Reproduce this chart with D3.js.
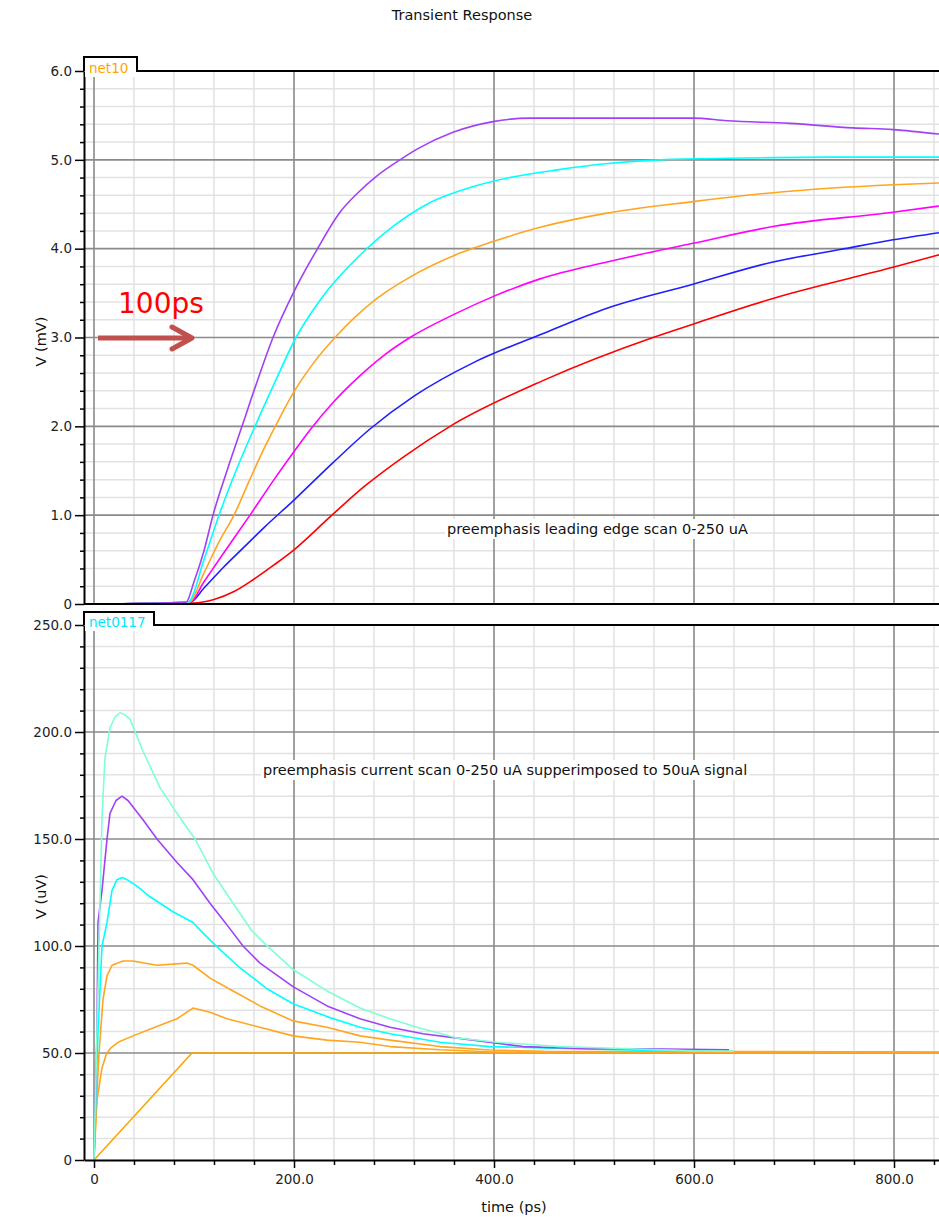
<!DOCTYPE html>
<html>
<head>
<meta charset="utf-8">
<script src="https://d3js.org/d3.v7.min.js"></script>
<style>
  body { margin: 0; background: #fff; }
  text { font-family: "DejaVu Sans", sans-serif; }
</style>
</head>
<body>
<script>
var WIDTH = 939,
    HEIGHT = 1217;

// tick values
var TIME_TICKS = [0, 200, 400, 600, 800];
var MV_TICKS = [0, 1, 2, 3, 4, 5, 6];
var UV_TICKS = [0, 50, 100, 150, 200, 250];

// top panel: net10, time (ps) vs V (mV)
var edgePurple = [[0,0],[92,0.02],[100,0.25],[110,0.6],[119,1.0],[133,1.5],[148,2.0],[163,2.5],[179,3.0],[201,3.54],[223,3.99],[246,4.41],[264,4.63],[283,4.82],[306,5.0],[323,5.12],[359,5.31],[399,5.43],[436,5.47],[599,5.47],[633,5.44],[696,5.41],[759,5.36],[799,5.34],[845,5.29]];
var edgeCyan = [[0,0],[94,0.02],[110,0.5],[125,1.0],[142,1.5],[161,2.0],[181,2.5],[202,3.0],[226,3.42],[269,3.96],[299,4.25],[333,4.5],[383,4.71],[420,4.81],[465,4.89],[506,4.95],[566,5.0],[650,5.02],[736,5.03],[845,5.03]];
var edgeOrange = [[0,0],[95,0.02],[110,0.35],[125,0.7],[140,1.0],[155,1.38],[170,1.75],[185,2.08],[199,2.37],[220,2.72],[241,3.0],[283,3.44],[316,3.68],[366,3.95],[399,4.08],[446,4.24],[513,4.4],[599,4.53],[679,4.63],[799,4.72],[845,4.74]];
var edgeMagenta = [[0,0],[96,0.02],[110,0.25],[130,0.58],[156,1.0],[180,1.4],[199,1.7],[216,1.96],[240,2.28],[265,2.56],[290,2.8],[316,3.0],[360,3.26],[399,3.46],[446,3.66],[513,3.85],[599,4.06],[679,4.25],[799,4.41],[845,4.48]];
var edgeBlue = [[0,0],[96,0.02],[110,0.18],[130,0.42],[150,0.64],[170,0.86],[200,1.17],[238,1.58],[276,1.97],[320,2.34],[380,2.72],[446,3.03],[513,3.33],[599,3.6],[679,3.85],[746,3.99],[799,4.1],[845,4.18]];
var edgeRed = [[0,0],[100,0.01],[120,0.05],[140,0.14],[160,0.28],[180,0.44],[200,0.61],[236,0.98],[270,1.32],[310,1.66],[356,2.0],[450,2.52],[559,3.0],[599,3.15],[679,3.44],[799,3.79],[845,3.93]];

// bottom panel: net0117, time (ps) vs V (uV)
var scanAqua = [[0,0],[2,40],[5,100],[8,160],[11,188],[16,202],[21,207],[26,209],[31,208],[36,206],[49,191],[66,174],[83,162],[101,150],[119,134],[139,120],[158,107],[171,101],[199,89],[233,79],[266,71],[296,66],[323,62],[363,57],[403,55],[466,53],[536,52],[599,51],[640,50.8]];
var scanPurple = [[0,0],[3,60],[4,111],[8,126],[13,150],[16,162],[22,168],[28,170],[34,168],[49,159],[63,150],[83,139],[99,131],[116,120],[126,114],[136,108],[149,100],[166,92],[199,81],[233,72],[266,66],[296,62],[329,59],[379,56],[429,53],[496,52],[546,52],[635,51.5]];
var scanCyan = [[0,0],[4,60],[8,100],[13,111],[18,126],[23,131],[28,132],[33,131],[43,128],[56,123],[79,116],[99,111],[109,106],[120,101],[143,91],[173,80],[199,73],[233,67],[266,62],[296,59],[346,55],[396,53],[479,52],[579,51],[640,50.8]];
var scanOrangeHigh = [[0,0],[1,13],[5,50],[9,75],[13,86],[18,91],[29,93],[39,93],[63,91],[93,92],[99,91],[116,85],[139,79],[166,72],[199,65],[233,62],[266,58],[296,56],[346,53],[396,51.4],[450,50.8],[845,50.5]];
var scanOrangeMid = [[0,0],[3,28],[8,43],[12,49],[16,52],[24,55],[39,58],[66,63],[83,66],[99,71],[116,69],[133,66],[166,62],[199,58],[233,56],[266,55],[296,53],[346,51.5],[399,50.5],[845,50.3]];
var scanOrangeRamp = [[0,0],[98,50],[845,50]];

var EDGE_SERIES = [edgeRed, edgeBlue, edgeMagenta, edgeOrange, edgeCyan, edgePurple];
var EDGE_COLORS = ['#ff0000', '#1f1fff', '#ff00ff', '#ffa520', '#00ffff', '#a040f8'];
var SCAN_SERIES = [scanOrangeRamp, scanOrangeMid, scanOrangeHigh, scanCyan, scanPurple, scanAqua];
var SCAN_COLORS = ['#ffa500', '#ffa520', '#ffa520', '#00ffff', '#a040f8', '#7fffd4'];

var x = d3.scaleLinear().domain([-10, 845]).range([84, 939]);
var svg;

document.addEventListener('DOMContentLoaded', function() {
    svg = d3.select('body').append('svg')
        .attr('width', WIDTH)
        .attr('height', HEIGHT);

    svg.append('text')
        .attr('x', 462).attr('y', 20)
        .attr('text-anchor', 'middle')
        .attr('font-size', 14.5)
        .attr('fill', '#111')
        .text('Transient Response');

    drawPanel({
        top: 71, bottom: 604, domain: [0, 6],
        ticks: MV_TICKS, minor: d3.range(1, 30).filter(i => i % 5).map(i => i * 0.2),
        fmt: d => d === 0 ? '0' : d.toFixed(1),
        series: EDGE_SERIES, colors: EDGE_COLORS, curve: d3.curveMonotoneX,
        tab: 'net10', tabColor: '#ffa500', tabTop: 57, tabRight: 137,
        ylabel: 'V (mV)',
        note: 'preemphasis leading edge scan 0-250 uA', noteX: 447, noteY: 534
    });

    drawPanel({
        top: 625, bottom: 1160, domain: [0, 250],
        ticks: UV_TICKS, minor: d3.range(10, 250, 10).filter(v => v % 50),
        fmt: d => d === 0 ? '0' : d.toFixed(1),
        series: SCAN_SERIES, colors: SCAN_COLORS, curve: d3.curveLinear,
        tab: 'net0117', tabColor: '#00e8ff', tabTop: 612, tabRight: 154,
        ylabel: 'V (uV)',
        note: 'preemphasis current scan 0-250 uA supperimposed to 50uA signal', noteX: 263, noteY: 775,
        timeAxis: true
    });

    drawArrow();
});

function drawPanel(o) {
    var y = d3.scaleLinear().domain(o.domain).range([o.bottom, o.top]);
    var g = svg.append('g');
    var minorT = d3.range(40, 845, 40).filter(t => t % 200);

    // grid
    g.selectAll('.vminor').data(minorT).enter().append('line')
        .attr('x1', d => x(d)).attr('x2', d => x(d))
        .attr('y1', o.top).attr('y2', o.bottom)
        .attr('stroke', '#e2e2e2').attr('stroke-width', 1.5);
    g.selectAll('.hminor').data(o.minor).enter().append('line')
        .attr('x1', 84).attr('x2', WIDTH)
        .attr('y1', d => y(d)).attr('y2', d => y(d))
        .attr('stroke', '#e2e2e2').attr('stroke-width', 1.5);
    g.selectAll('.vmajor').data(TIME_TICKS).enter().append('line')
        .attr('x1', d => x(d)).attr('x2', d => x(d))
        .attr('y1', o.top).attr('y2', o.bottom)
        .attr('stroke', '#8a8a8a').attr('stroke-width', 1.6);
    g.selectAll('.hmajor').data(o.ticks.slice(1, -1)).enter().append('line')
        .attr('x1', 84).attr('x2', WIDTH)
        .attr('y1', d => y(d)).attr('y2', d => y(d))
        .attr('stroke', '#8a8a8a').attr('stroke-width', 1.6);

    // curves
    var line = d3.line()
        .x(d => x(d[0]))
        .y(d => y(d[1]))
        .curve(o.curve);

    g.selectAll('.curve').data(o.series).enter().append('path')
        .attr('d', line)
        .attr('fill', 'none')
        .attr('stroke', (d, i) => o.colors[i])
        .attr('stroke-width', 1.6)
        .attr('stroke-linejoin', 'round');

    // annotation with white backing
    var note = g.append('text')
        .attr('x', o.noteX).attr('y', o.noteY)
        .attr('font-size', 14.5)
        .attr('fill', '#111')
        .text(o.note);
    var bb = note.node().getBBox();
    g.insert('rect', function() { return note.node(); })
        .attr('x', bb.x - 2).attr('y', bb.y - 2)
        .attr('width', bb.width + 4).attr('height', bb.height + 4)
        .attr('fill', '#fff');

    // left axis
    var yAxis = d3.axisLeft(y).tickValues(o.ticks).tickFormat(o.fmt)
        .tickSize(9).tickSizeOuter(0).tickPadding(3);
    var ya = g.append('g').attr('transform', 'translate(84,0)').call(yAxis);
    ya.attr('font-family', '"DejaVu Sans", sans-serif').attr('font-size', 13.5);
    ya.selectAll('text').attr('fill', '#222');
    ya.selectAll('line').attr('stroke', '#000').attr('stroke-width', 1.5);
    ya.select('.domain').attr('stroke', '#000').attr('stroke-width', 2);

    var yMinor = d3.axisLeft(y).tickValues(o.minor).tickFormat('').tickSize(4).tickSizeOuter(0);
    var ym = g.append('g').attr('transform', 'translate(84,0)').call(yMinor);
    ym.selectAll('line').attr('stroke', '#000').attr('stroke-width', 1.5);
    ym.select('.domain').remove();

    // bottom line of panel
    if (o.timeAxis) {
        var xAxis = d3.axisBottom(x).tickValues(TIME_TICKS).tickFormat(o.fmt)
            .tickSize(8).tickSizeOuter(0).tickPadding(6);
        var xa = g.append('g').attr('transform', 'translate(0,' + o.bottom + ')').call(xAxis);
        xa.attr('font-family', '"DejaVu Sans", sans-serif').attr('font-size', 13.5);
        xa.selectAll('text').attr('fill', '#222');
        xa.selectAll('line').attr('stroke', '#000').attr('stroke-width', 1.5);
        xa.select('.domain').attr('stroke', '#000').attr('stroke-width', 2);

        var xMinor = d3.axisBottom(x).tickValues(minorT).tickFormat('').tickSize(5).tickSizeOuter(0);
        var xm = g.append('g').attr('transform', 'translate(0,' + o.bottom + ')').call(xMinor);
        xm.selectAll('line').attr('stroke', '#000').attr('stroke-width', 1.5);
        xm.select('.domain').remove();

        svg.append('text')
            .attr('x', 514).attr('y', 1212)
            .attr('text-anchor', 'middle')
            .attr('font-size', 14.5)
            .attr('fill', '#111')
            .text('time (ps)');
    } else {
        g.append('line')
            .attr('x1', 84).attr('x2', WIDTH)
            .attr('y1', o.bottom).attr('y2', o.bottom)
            .attr('stroke', '#000').attr('stroke-width', 2);
    }

    // frame top with tab
    g.append('rect')
        .attr('x', 85).attr('y', o.tabTop + 1)
        .attr('width', o.tabRight - 86).attr('height', o.top - o.tabTop + 5)
        .attr('fill', '#fff');
    g.append('path')
        .attr('d', 'M84,' + o.top + 'V' + o.tabTop + 'H' + o.tabRight + 'V' + o.top + 'H' + WIDTH)
        .attr('fill', 'none')
        .attr('stroke', '#000')
        .attr('stroke-width', 2);
    g.append('text')
        .attr('x', 89).attr('y', o.top + 2)
        .attr('font-size', 13.5)
        .attr('fill', o.tabColor)
        .text(o.tab);

    // y label
    var mid = (o.top + o.bottom) / 2;
    svg.append('text')
        .attr('transform', 'translate(46,' + (mid + 4) + ') rotate(-90)')
        .attr('text-anchor', 'middle')
        .attr('font-size', 14.5)
        .attr('fill', '#111')
        .text(o.ylabel);
}

function drawArrow() {
    var a = svg.append('g');
    a.append('line')
        .attr('x1', 98).attr('x2', 190)
        .attr('y1', 338).attr('y2', 338)
        .attr('stroke', '#c0504d').attr('stroke-width', 5);
    a.append('path')
        .attr('d', 'M172,327L192,338L172,349')
        .attr('fill', 'none')
        .attr('stroke', '#c0504d').attr('stroke-width', 5)
        .attr('stroke-linecap', 'round').attr('stroke-linejoin', 'round');
    a.append('text')
        .attr('x', 118).attr('y', 313)
        .attr('font-family', 'Lato, "Open Sans", sans-serif')
        .attr('font-size', 28)
        .attr('fill', '#ff0000')
        .text('100ps');
}
</script>
</body>
</html>
